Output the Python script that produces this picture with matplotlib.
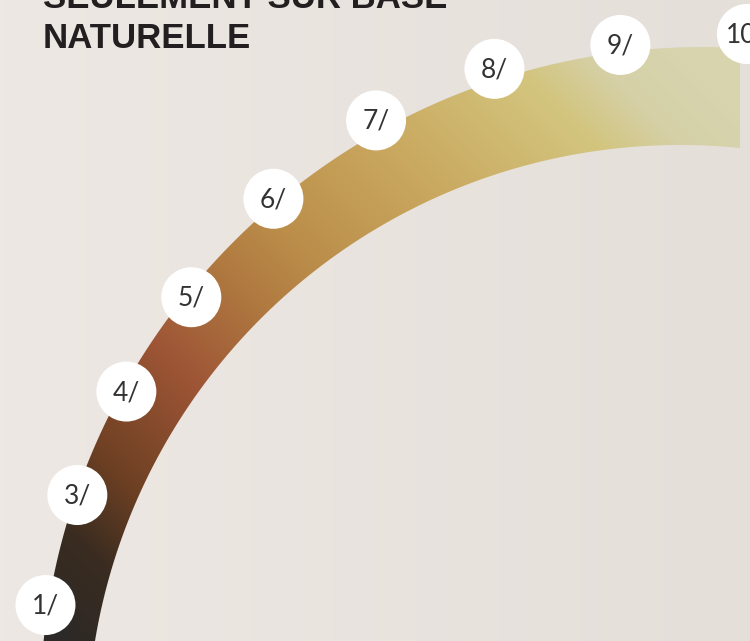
import numpy as np
import matplotlib.pyplot as plt
from matplotlib.path import Path
from matplotlib.patches import PathPatch, Circle
from matplotlib.colors import to_rgb

# Titre
titre = ['SEULEMENT SUR BASE', 'NATURELLE']

# Hauteurs de ton affichées sur l'arc
niveaux = [1, 3, 4, 5, 6, 7, 8, 9, 10]
etiquettes = [f'{n}/' for n in niveaux]

# Dégradé de l'arc (du plus foncé au plus clair)
couleurs_degrade = ['#2c2927', '#3a2c20', '#6e4023', '#9e5636', '#b07a40',
                    '#bb8e4a', '#c9a75e', '#d3c57e', '#d5d0a6', '#d7d4ae']
positions_degrade = [0.0, 0.10, 0.19, 0.33, 0.45, 0.53, 0.68, 0.86, 0.93, 1.0]

W, H = 750, 641
fig = plt.figure(figsize=(7.5, 6.41), dpi=100)
ax = fig.add_axes([0, 0, 1, 1])
ax.set_xlim(0, W)
ax.set_ylim(H, 0)
ax.axis('off')

# Fond légèrement dégradé
fond = np.linspace(0, 1, 200)
c1, c2 = np.array(to_rgb('#eee8e4')), np.array(to_rgb('#e5dfda'))
img_fond = c1[None, None, :] * (1 - fond[None, :, None]) + c2[None, None, :] * fond[None, :, None]
ax.imshow(img_fond, extent=(0, W, H, 0), aspect='auto', zorder=0)

# Géométrie de l'arc (deux cercles non concentriques)
cx_ext, cy_ext, r_ext = 703, 710, 663
cx_int, cy_int, r_int = 680, 738, 593
x_fin = 740

a0 = np.degrees(np.arccos((x_fin - cx_ext) / r_ext))
a1 = np.degrees(np.arcsin((cy_ext - (H + 20)) / r_ext))
ang_ext = np.radians(np.linspace(180 - a1, a0, 300))
b0 = np.degrees(np.arccos((x_fin - cx_int) / r_int))
b1 = np.degrees(np.arcsin((cy_int - (H + 20)) / r_int))
ang_int = np.radians(np.linspace(b0, 180 - b1, 300))

pts_ext = np.column_stack([cx_ext + r_ext * np.cos(ang_ext), cy_ext - r_ext * np.sin(ang_ext)])
pts_int = np.column_stack([cx_int + r_int * np.cos(ang_int), cy_int - r_int * np.sin(ang_int)])
pts = np.vstack([pts_ext, pts_int, pts_ext[:1]])
arc = PathPatch(Path(pts, closed=True), facecolor='none', edgecolor='none')
ax.add_patch(arc)

# Dégradé diagonal (bas gauche -> haut droite)
xx, yy = np.meshgrid(np.arange(W) + 0.5, np.arange(H) + 0.5)
t = (xx + (H - yy) - 60) / 1200
t = np.clip(t, 0, 1)
rgb = np.array([to_rgb(c) for c in couleurs_degrade])
img = np.dstack([np.interp(t, positions_degrade, rgb[:, k]) for k in range(3)])
im = ax.imshow(img, extent=(0, W, H, 0), aspect='auto', zorder=1)
im.set_clip_path(arc)

# Pastilles numérotées le long du bord extérieur
cx_p, cy_p = 745, 748
angle = 168.45
for i, lab in enumerate(etiquettes):
    if i > 0:
        angle -= 9.2 if i <= 3 else 10.2
    r = 714 + (14 * np.sin(np.pi * (i - 3) / 4) if 3 < i < 7 else 0)
    px = cx_p + r * np.cos(np.radians(angle))
    py = cy_p - r * np.sin(np.radians(angle))
    ax.add_patch(Circle((px, py), 30, facecolor='white', edgecolor='none', zorder=3))
    ax.text(px, py + 1, lab, ha='center', va='center', fontsize=19,
            family=['Lato', 'DejaVu Sans'], color='#333333', zorder=4)

# Titre en haut à gauche
ax.text(43, 8, titre[0], ha='left', va='baseline', fontsize=25, fontweight='bold',
        family=['Liberation Sans', 'DejaVu Sans'], color='#231f20', zorder=5)
ax.text(43, 48, titre[1], ha='left', va='baseline', fontsize=25, fontweight='bold',
        family=['Liberation Sans', 'DejaVu Sans'], color='#231f20', zorder=5)

plt.savefig('out.png', dpi=100)
plt.close()
